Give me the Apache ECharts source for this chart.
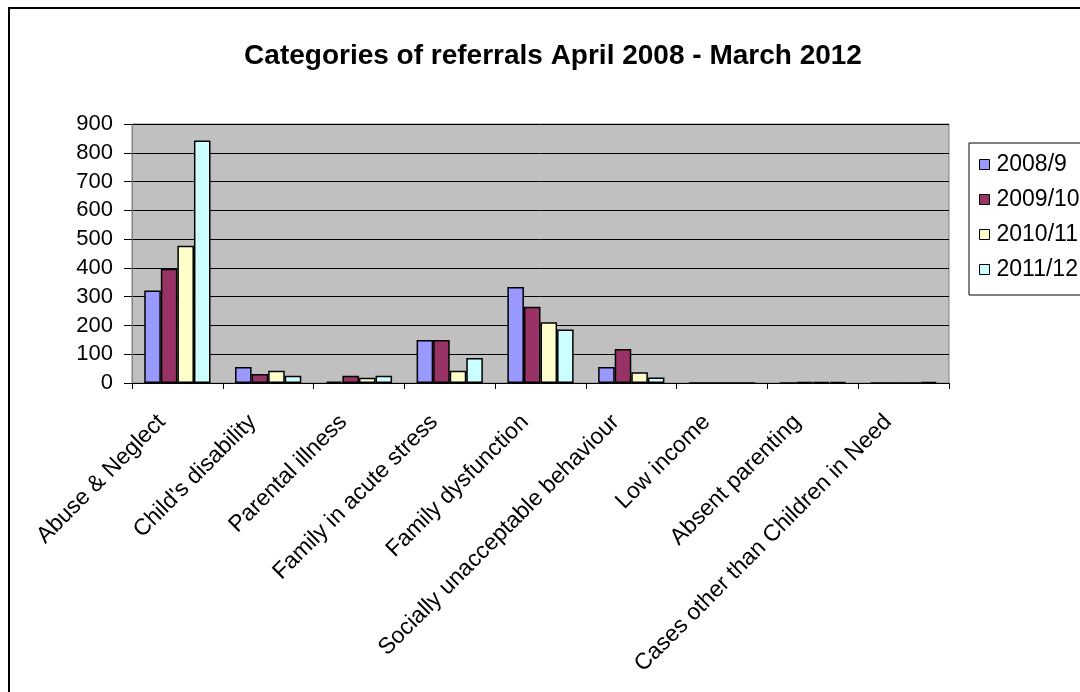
<!DOCTYPE html>
<html>
<head>
<meta charset="utf-8">
<script src="https://cdn.jsdelivr.net/npm/echarts@6/dist/echarts.min.js"></script>
<style>
  html, body { margin: 0; padding: 0; background: #fff; }
  #chart { width: 1080px; height: 692px; }
</style>
</head>
<body>
<div id="chart"></div>
<script>
// Referral categories and counts per financial year
const categories = [
  "Abuse & Neglect", "Child's disability", "Parental illness",
  "Family in acute stress", "Family dysfunction",
  "Socially unacceptable behaviour", "Low income",
  "Absent parenting", "Cases other than Children in Need"
];
const years = ["2008/9", "2009/10", "2010/11", "2011/12"];
const v2008 = [321, 56, 5, 149, 334, 56, 0, 0, 0];
const v2009 = [397, 31, 25, 149, 265, 118, 0, 3, 0];
const v2010 = [477, 43, 18, 43, 211, 37, 0, 3, 0];
const v2011 = [843, 25, 25, 87, 186, 19, 0, 3, 3];
const yTicks = { min: 0, max: 900, step: 100 };

const seriesValues = [v2008, v2009, v2010, v2011];
const colors = ["#9999FF", "#993366", "#FFFFCC", "#CCFFFF"];
const font = "Arial, 'Liberation Sans', sans-serif";

const chart = echarts.init(document.getElementById('chart'), null, { renderer: 'canvas' });

chart.setOption({
  backgroundColor: '#ffffff',
  animation: false,
  title: {
    text: 'Categories of referrals April 2008 - March 2012',
    left: 548, top: 37, textAlign: 'center',
    textStyle: { fontFamily: font, fontSize: 28, fontWeight: 'bold', color: '#000' }
  },
  graphic: [{
    type: 'rect', silent: true, z: -1,
    shape: { x: 9, y: 8, width: 1100, height: 720 },
    style: { fill: 'none', stroke: '#000', lineWidth: 2 }
  }],
  legend: {
    orient: 'vertical', left: 969, top: 143,
    itemWidth: 10, itemHeight: 10, itemGap: 12,
    padding: [10, 40, 14, 10],
    borderColor: '#000', borderWidth: 1,
    icon: 'rect',
    itemStyle: { borderColor: '#000', borderWidth: 1 },
    textStyle: { fontFamily: font, fontSize: 23, color: '#000', padding: [0, 0, 0, 2] },
    data: years
  },
  grid: { left: 132, top: 124, right: 131, bottom: 309, show: true,
          backgroundColor: '#C0C0C0', borderColor: '#808080', borderWidth: 1 },
  xAxis: {
    type: 'category', data: categories,
    axisLine: { lineStyle: { color: '#000', width: 1 } },
    axisTick: { show: true, length: 6, lineStyle: { color: '#000' } },
    axisLabel: { rotate: 45, margin: 20, interval: 0, padding: [0, 22, 0, 0],
                 fontFamily: font, fontSize: 23, color: '#000' }
  },
  yAxis: {
    type: 'value', min: yTicks.min, max: yTicks.max, interval: yTicks.step,
    axisLine: { show: true, lineStyle: { color: '#808080' } },
    axisTick: { show: true, length: 8, lineStyle: { color: '#000' } },
    axisLabel: { margin: 19, fontFamily: font, fontSize: 22, color: '#000' },
    splitLine: { lineStyle: { color: '#000', width: 1 } }
  },
  series: years.map((name, i) => ({
    name, type: 'bar', data: seriesValues[i],
    barGap: '0%', barCategoryGap: '27%',
    itemStyle: { color: colors[i], borderColor: '#000', borderWidth: 1.5 }
  }))
});
</script>
</body>
</html>
